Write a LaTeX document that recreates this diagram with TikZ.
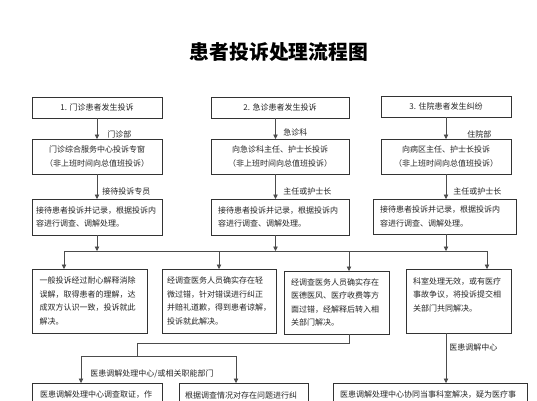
\documentclass[tikz,border=0pt]{standalone}
\usepackage{fontspec}
\newfontfamily\cjk{Noto Sans CJK SC}
\usepackage{tikz}
\usetikzlibrary{arrows.meta,calc,positioning}
\tikzset{
	flow chart/.style={
		x=1pt, y=-1pt,
		every node/.style={font=\cjk\fontsize{8}{13.6}\selectfont, text=black!85},
		wire/.style={draw=black!70, line width=.8pt},
		ar/.style={wire, -{Triangle[length=4.5pt,width=4.5pt]}},
		tag/.style={inner sep=0pt},
		},
	box/.style 2 args={draw=black!80, line width=.9pt, anchor=north west,
		minimum width=#1, minimum height=#2, inner sep=0pt, outer sep=0pt, align=center},
	para/.style={text width=#1, align=left},
}

\begin{document}
\begin{tikzpicture}[flow chart]
  \path[use as bounding box, fill=white] (0,0) rectangle (537,400);
  \clip (0,0) rectangle (537,400);
  \node[font=\cjk\bfseries\fontsize{19.8}{22}\selectfont, text=black] (T) at (279,52) {患者投诉处理流程图};
  % three columns
  \node[box={130}{21}] (O1) at (32,97) {1. 门诊患者发生投诉};
  \node[box={138}{21}] (E1) at (211,97) {2. 急诊患者发生投诉};
  \node[box={130}{21}] (I1) at (381,96) {3. 住院患者发生纠纷};
  \node[box={130}{35}] (O2) at (32,139) {门诊综合服务中心投诉专窗\\（非上班时间向总值班投诉）};
  \node[box={138}{35}] (E2) at (211,139) {向急诊科主任、护士长投诉\\（非上班时间向总值班投诉）};
  \node[box={130}{35}] (I2) at (381,139) {向病区主任、护士长投诉\\（非上班时间向总值班投诉）};
  \node[box={130}{36}, para=122pt] (O3) at (32,199) {接待患者投诉并记录，根据投诉内\\容进行调查、调解处理。};
  \node[box={138}{36}, para=124pt] (E3) at (211,199) {接待患者投诉并记录，根据投诉内\\容进行调查、调解处理。};
  \node[box={143}{35}, para=129pt] (I3) at (373,199) {接待患者投诉并记录，根据投诉内\\容进行调查、调解处理。};
  % results
  \node[box={115}{64}, para=100pt] (R1) at (32,269) {一般投诉经过耐心解释消除\\误解，取得患者的理解，达\\成双方认识一致，投诉就此\\解决。};
  \node[box={114}{64}, para=104pt] (R2) at (162,269) {经调查医务人员确实存在轻\\微过错，针对错误进行纠正\\并赔礼道歉，得到患者谅解，\\投诉就此解决。};
  \node[box={105}{63}, para=91pt] (R3) at (284,271) {经调查医务人员确实存在\\医德医风、医疗收费等方\\面过错，经解释后转入相\\关部门解决。};
  \node[box={105}{64}, para=91pt] (R4) at (406,269) {科室处理无效，或有医疗\\事故争议，将投诉提交相\\关部门共同解决。\\ \mbox{}};
  \node[box={130}{24}, para=114pt] (M1) at (32,383) {医患调解处理中心调查取证，作};
  \node[box={129}{24}, para=117pt] (M2) at (179,383) {根据调查情况对存在问题进行纠};
  \node[box={194}{24}, para=180pt] (M3) at (333,383) {医患调解处理中心协同当事科室解决，疑为医疗事};

  \draw[ar] (O1) -- (O2) node[tag, pos=.8, right=10pt] {门诊部};
  \draw[ar] (O2) -- (O3) node[tag, pos=.7, right=5pt] {接待投诉专员};
  \draw[ar] ([xshift=-4.5pt]E1.south) -- ([xshift=-4.5pt]E2.north) node[tag, pos=.7, right=7.5pt] {急诊科};
  \draw[ar] ([xshift=-4.5pt]E2.south) -- ([xshift=-4.5pt]E3.north) node[tag, pos=.7, right=7.5pt] {主任或护士长};
  \draw[ar] (I1) -- (I2) node[tag, pos=.77, right=21pt] {住院部};
  \draw[ar] (I2.south) -- (I2.south |- I3.north) node[tag, pos=.7, right=7pt] {主任或护士长};

  \coordinate (bus) at (0,251);
  \coordinate (dA) at (64,251);
  \coordinate (dB) at (219,251);
  \coordinate (dC) at (349,251);
  \coordinate (dD) at (487,251);
  \draw[ar] (O3.south) -- (O3.south |- bus);
  \draw[ar] ([xshift=-4.5pt]E3.south) -- ([xshift=-4.5pt]E3.south |- bus);
  \draw[ar] ([xshift=1.5pt]I3.south) -- ([xshift=1.5pt]I3.south |- bus);
  \draw[wire] (dA) -- (dD);
  \foreach \d/\r in {dA/R1, dB/R2, dC/R3, dD/R4}
    \draw[ar] (\d) -- (\d |- \r.north);

  \coordinate (jC) at (349,343);
  \coordinate (jL) at (137,343);
  \coordinate (mL) at (81,356);
  \coordinate (mR) at (236,356);
  \draw[wire] (R3.south -| jC) -- (jC) -- (jL) -- (jL |- mL);
  \draw[wire] (mL) -- (mR);
  \draw[ar] (mL) -- (mL |- M1.north) node[tag, pos=.67, right=9pt] {医患调解处理中心/或相关职能部门};
  \draw[ar] (mR) -- (mR |- M2.north);
  \draw[ar] ([xshift=-12.5pt]R4.south) -- ([xshift=-12.5pt]R4.south |- M3.north) node[tag, pos=.28, right=3pt] {医患调解中心};
\end{tikzpicture}
\end{document}
